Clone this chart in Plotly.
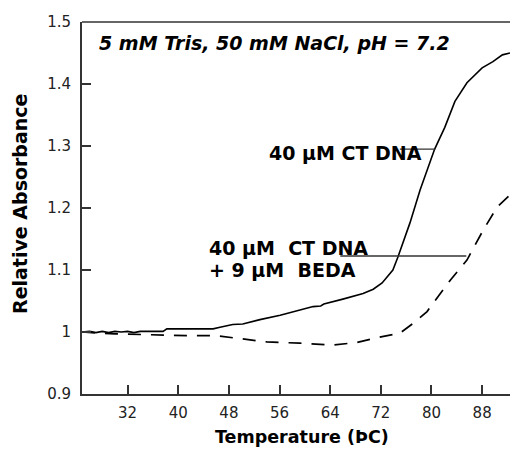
import plotly.graph_objects as go

# Data
temp_ct = [24.8, 26, 27, 28, 29, 30, 31, 32, 33, 34, 35, 36, 37.6, 38.2, 45.5, 46.6,
           48.6, 50.2, 52.9, 56.1, 61.3, 62.5, 63, 66, 69.2, 70.8, 72.2, 73.9, 74.7,
           76.6, 78.2, 80.5, 82.1, 83.7, 85.6, 88.0, 89.7, 91.2, 92.4]
abs_ct = [1.0, 1.001, 0.999, 1.001, 0.999, 1.001, 1.0, 1.001, 0.999, 1.001, 1.001, 1.001,
          1.001, 1.005, 1.005, 1.0076, 1.012, 1.013, 1.02, 1.027, 1.041, 1.042, 1.045,
          1.053, 1.062, 1.069, 1.079, 1.1, 1.121, 1.176, 1.229, 1.295, 1.33, 1.372,
          1.402, 1.426, 1.436, 1.447, 1.45]

temp_beda = [24.8, 26, 28, 30, 33, 36.6, 39.5, 42, 46, 48.2, 51.3, 54, 59.2, 64.4, 68.2,
             71.4, 75, 77.1, 79.3, 80.3, 83, 85.6, 88.2, 90.4, 92.4]
abs_beda = [1.0, 0.999, 0.998, 0.997, 0.996, 0.996, 0.995, 0.994, 0.994, 0.991, 0.987,
            0.984, 0.982, 0.979, 0.983, 0.991, 0.998, 1.014, 1.033, 1.047, 1.084, 1.116,
            1.165, 1.202, 1.221]

# Leader lines for the labels
leader_ct_x = [75.0, 80.6]
leader_ct_y = [1.295, 1.295]
leader_beda_x = [65.6, 85.5]
leader_beda_y = [1.1226, 1.1226]

x_ticks = [32, 40, 48, 56, 64, 72, 80, 88]
y_ticks = [0.9, 1.0, 1.1, 1.2, 1.3, 1.4, 1.5]
y_tick_text = ["0.9", "1", "1.1", "1.2", "1.3", "1.4", "1.5"]

FONT = "DejaVu Sans"

fig = go.Figure()
fig.add_trace(go.Scatter(x=temp_ct, y=abs_ct, mode="lines",
                         line=dict(color="black", width=1.6), showlegend=False))
fig.add_trace(go.Scatter(x=temp_beda, y=abs_beda, mode="lines",
                         line=dict(color="black", width=1.7, dash="13px,10px"),
                         showlegend=False))
fig.add_trace(go.Scatter(x=leader_ct_x, y=leader_ct_y, mode="lines",
                         line=dict(color="#333", width=1.4), showlegend=False))
fig.add_trace(go.Scatter(x=leader_beda_x, y=leader_beda_y, mode="lines",
                         line=dict(color="#333", width=1.4), showlegend=False))

ann_font = dict(family=FONT, size=19, color="black")
fig.add_annotation(x=54.0, y=1.2887, xref="x", yref="y", text="<b>40 µM CT DNA</b>",
                   showarrow=False, xanchor="left", yanchor="middle", font=ann_font)
fig.add_annotation(x=44.53, y=1.1355, xref="x", yref="y", text="<b>40 µM  CT DNA</b>",
                   showarrow=False, xanchor="left", yanchor="middle", font=ann_font)
fig.add_annotation(x=44.53, y=1.1, xref="x", yref="y", text="<b>+ 9 µM  BEDA</b>",
                   showarrow=False, xanchor="left", yanchor="middle", font=ann_font)
fig.add_annotation(x=27.15, y=1.466, xref="x", yref="y",
                   text="<b><i>5 mM Tris, 50 mM NaCl, pH = 7.2</i></b>",
                   showarrow=False, xanchor="left", yanchor="middle", font=ann_font)

# Axis titles (paper coordinates)
fig.add_annotation(x=(302 - 82) / 428, y=-(437 - 394) / 372, xref="paper", yref="paper",
                   text="<b>Temperature (ÞC)</b>", showarrow=False,
                   xanchor="center", yanchor="middle",
                   font=dict(family=FONT, size=17.5, color="black"))
fig.add_annotation(x=-(82 - 20) / 428, y=(394 - 204) / 372, xref="paper", yref="paper",
                   text="<b>Relative Absorbance</b>", textangle=-90, showarrow=False,
                   xanchor="center", yanchor="middle",
                   font=dict(family=FONT, size=19, color="black"))

fig.update_layout(
    width=510, height=450,
    margin=dict(l=82, r=0, t=22, b=56),
    paper_bgcolor="white", plot_bgcolor="white",
    font=dict(family=FONT, size=15, color="#222"),
)

fig.update_xaxes(range=[24.8, 92.4], tickvals=x_ticks, ticks="inside", ticklen=9,
                 tickwidth=1.5, tickcolor="#333", showline=True, linecolor="#333",
                 linewidth=2, showgrid=False, zeroline=False, ticklabelstandoff=4,
                 tickfont=dict(family=FONT, size=15, color="#222"))
fig.update_yaxes(range=[0.9, 1.5], tickvals=y_ticks, ticktext=y_tick_text, ticks="inside",
                 ticklen=9, tickwidth=1.5, tickcolor="#333", showline=True, linecolor="#333",
                 linewidth=2, showgrid=False, zeroline=False, ticklabelstandoff=6,
                 tickfont=dict(family=FONT, size=15, color="#222"))
fig.add_shape(type="line", xref="paper", yref="paper", x0=0, x1=1, y0=1, y1=1,
              line=dict(color="#666", width=2))

fig.write_html("out.html")
